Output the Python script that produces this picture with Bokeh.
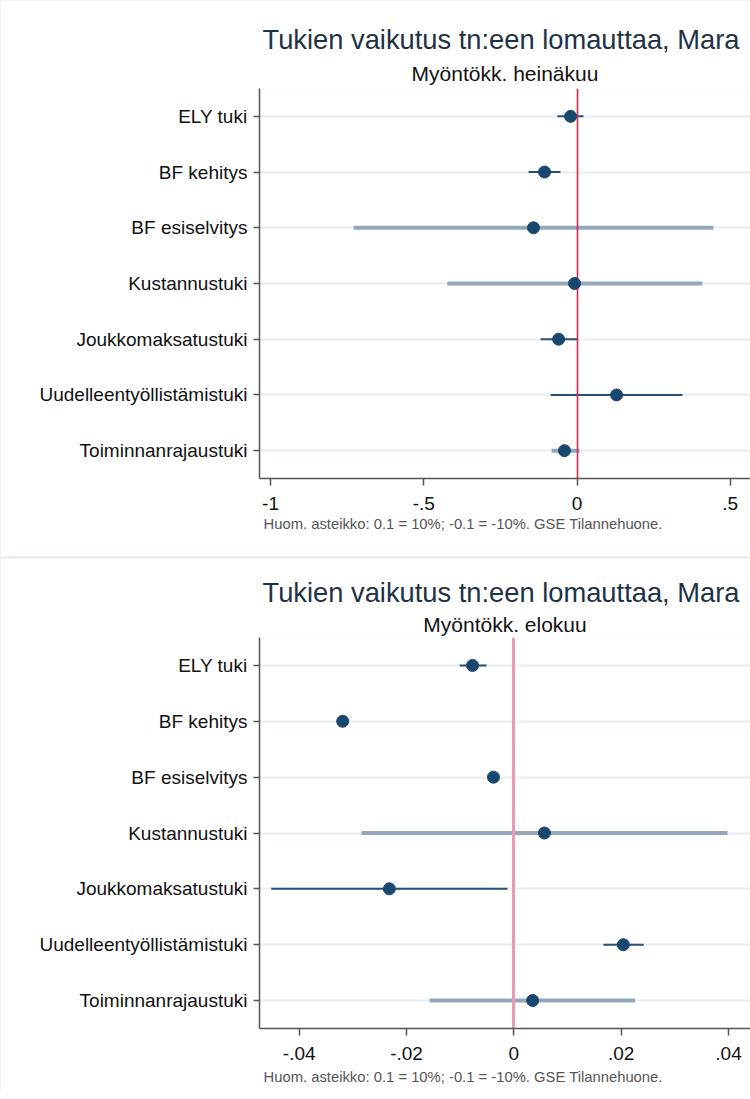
from bokeh.plotting import figure
from bokeh.models import FactorRange, Range1d, Title, FixedTicker, ColumnDataSource
from bokeh.layouts import column
from bokeh.embed import file_html
from bokeh.resources import INLINE

# ---------------- data ----------------
categories = ["ELY tuki", "BF kehitys", "BF esiselvitys", "Kustannustuki",
              "Joukkomaksatustuki", "Uudelleentyöllistämistuki", "Toiminnanrajaustuki"]

title_text = "Tukien vaikutus tn:een lomauttaa, Mara"
note_text = "Huom. asteikko: 0.1 = 10%; -0.1 = -10%. GSE Tilannehuone."

jul_subtitle = "Myöntökk. heinäkuu"
jul_coef = [-0.021, -0.106, -0.142, -0.008, -0.060, 0.129, -0.041]
jul_lo = [-0.064, -0.158, -0.729, -0.423, -0.119, -0.086, -0.083]
jul_hi = [0.021, -0.054, 0.445, 0.409, 0.002, 0.344, 0.008]
jul_group = ["tight", "tight", "wide", "wide", "tight", "tight", "wide"]
jul_ticks = [-1, -0.5, 0, 0.5]
jul_tick_labels = ["-1", "-.5", "0", ".5"]

aug_subtitle = "Myöntökk. elokuu"
aug_coef = [-0.0077, -0.0319, -0.0038, 0.0057, -0.0232, 0.0204, 0.0035]
aug_lo = [-0.0101, -0.0322, -0.0041, -0.0284, -0.0452, 0.0167, -0.0157]
aug_hi = [-0.0051, -0.0316, -0.0035, 0.0398, -0.0012, 0.0242, 0.0226]
aug_group = ["tight", "tight", "tight", "wide", "tight", "tight", "wide"]
aug_ticks = [-0.04, -0.02, 0, 0.02, 0.04]
aug_tick_labels = ["-.04", "-.02", "0", ".02", ".04"]

FONT = "Liberation Sans"
NAVY = "#1a476f"
PALE = "#8ea2b7"


def make_panel(subtitle, coef, lo, hi, group, ticks, tick_labels,
               x_start, x_end, height, border_top, border_bottom,
               zero_color, zero_width, sub_standoff, title_standoff, note_standoff):
    p = figure(width=750, height=height,
               y_range=FactorRange(factors=list(reversed(categories)), range_padding=0),
               x_range=Range1d(x_start, x_end),
               output_backend="svg", toolbar_location=None, title=None,
               min_border_left=259, min_border_right=0,
               min_border_top=border_top, min_border_bottom=border_bottom)
    p.background_fill_color = "white"
    p.border_fill_color = "white"
    p.outline_line_color = None

    # grid
    p.xgrid.grid_line_color = None
    p.ygrid.grid_line_color = "#e5edf0"
    p.ygrid.grid_line_width = 2

    # CIs
    for g, col, w in (("wide", PALE, 4), ("tight", NAVY, 2)):
        idx = [i for i, gg in enumerate(group) if gg == g]
        src = ColumnDataSource(dict(cat=[categories[i] for i in idx],
                                    lo=[lo[i] for i in idx],
                                    hi=[hi[i] for i in idx]))
        p.segment(x0="lo", y0="cat", x1="hi", y1="cat", source=src,
                  line_color=col, line_width=w, line_alpha=0.95)

    # zero line
    p.vspan(x=[0], line_color=zero_color, line_width=zero_width)

    # points
    p.scatter(x=coef, y=categories, size=12, marker="circle",
              fill_color=NAVY, line_color=NAVY)

    # axes
    for ax in (p.xaxis[0], p.yaxis[0]):
        ax.axis_line_color = "#555555"
        ax.axis_line_width = 1.5
        ax.major_tick_line_color = "#555555"
        ax.major_tick_line_width = 1.5
        ax.major_tick_in = 0
        ax.minor_tick_line_color = None
        ax.major_label_text_font = FONT
        ax.major_label_text_font_size = "19px"
        ax.major_label_text_color = "#111111"
    p.yaxis.major_tick_out = 6
    p.yaxis.major_label_standoff = 6
    p.xaxis.major_tick_out = 7
    p.xaxis.major_label_standoff = 11
    p.xaxis.ticker = FixedTicker(ticks=ticks)
    p.xaxis.major_label_overrides = {t: l for t, l in zip(ticks, tick_labels)}

    # titles (subtitle nearest frame, main title above)
    p.add_layout(Title(text=subtitle, align="center", text_font=FONT,
                       text_font_size="21px", text_font_style="normal",
                       text_color="#111111", standoff=sub_standoff), "above")
    p.add_layout(Title(text=title_text, align="left", offset=3, text_font=FONT,
                       text_font_size="27.3px", text_font_style="normal",
                       text_color="#1e3246", standoff=title_standoff), "above")
    p.add_layout(Title(text=note_text, align="left", offset=4, text_font=FONT,
                       text_font_size="14.8px", text_font_style="normal",
                       text_color="#555555", standoff=note_standoff), "below")
    return p


top = make_panel(jul_subtitle, jul_coef, jul_lo, jul_hi, jul_group,
                 jul_ticks, jul_tick_labels, -1.036, 0.566,
                 556, 88, 78, "#d42a4f", 1.6, 8, 1, 3)
bottom = make_panel(aug_subtitle, aug_coef, aug_lo, aug_hi, aug_group,
                    aug_ticks, aug_tick_labels, -0.0474, 0.0441,
                    532, 79, 62, "#e99bb0", 3, 4, 2, 8)

layout = column(top, bottom, spacing=2, styles={"background-color": "#e8eef1"})

open("out.html", "w").write(file_html(layout, INLINE))
